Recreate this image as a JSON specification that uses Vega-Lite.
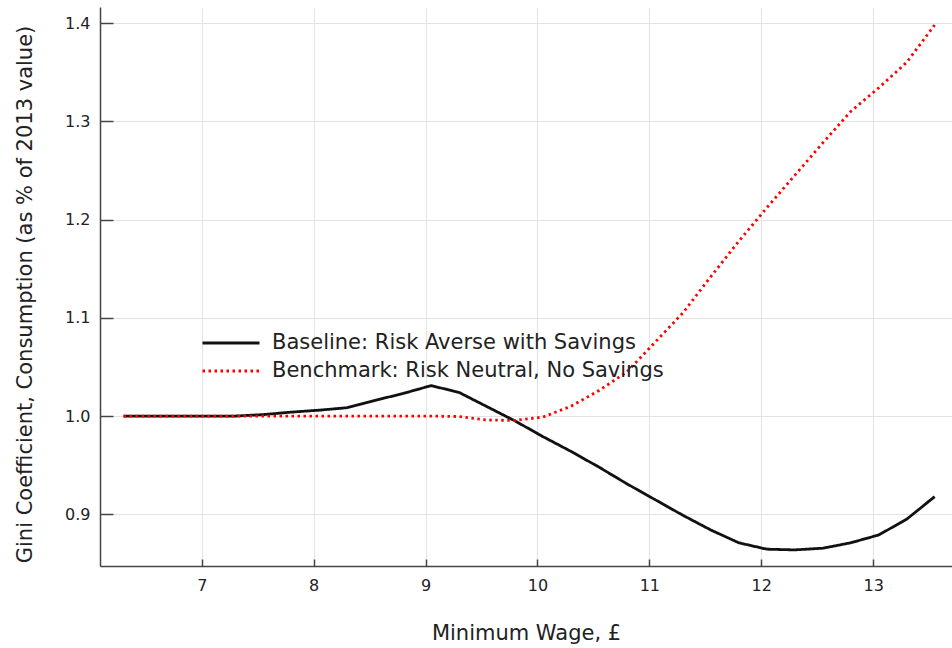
{
  "$schema": "https://vega.github.io/schema/vega-lite/v6.json",
  "width": 852,
  "height": 559,
  "autosize": {"type": "none"},
  "padding": {"left": 100, "top": 7, "right": 0, "bottom": 82},
  "background": "white",
  "config": {
    "view": {"stroke": null},
    "font": "DejaVu Sans",
    "axis": {
      "domainColor": "#444444",
      "domainWidth": 1.5,
      "tickColor": "#444444",
      "tickWidth": 1.5,
      "gridColor": "#e3e3e3",
      "gridWidth": 1,
      "labelFont": "DejaVu Sans",
      "labelFontSize": 16,
      "labelColor": "#222222",
      "titleFont": "DejaVu Sans",
      "titleFontSize": 21,
      "titleFontWeight": "normal",
      "titleColor": "#222222"
    }
  },
  "data": {
    "values": [
      {"x": 6.30, "y": 1.000, "series": "Baseline: Risk Averse with Savings"},
      {"x": 6.55, "y": 1.000, "series": "Baseline: Risk Averse with Savings"},
      {"x": 6.80, "y": 1.000, "series": "Baseline: Risk Averse with Savings"},
      {"x": 7.05, "y": 1.000, "series": "Baseline: Risk Averse with Savings"},
      {"x": 7.30, "y": 1.000, "series": "Baseline: Risk Averse with Savings"},
      {"x": 7.55, "y": 1.0015, "series": "Baseline: Risk Averse with Savings"},
      {"x": 7.80, "y": 1.004, "series": "Baseline: Risk Averse with Savings"},
      {"x": 8.05, "y": 1.006, "series": "Baseline: Risk Averse with Savings"},
      {"x": 8.30, "y": 1.0085, "series": "Baseline: Risk Averse with Savings"},
      {"x": 8.55, "y": 1.016, "series": "Baseline: Risk Averse with Savings"},
      {"x": 8.80, "y": 1.023, "series": "Baseline: Risk Averse with Savings"},
      {"x": 9.05, "y": 1.031, "series": "Baseline: Risk Averse with Savings"},
      {"x": 9.30, "y": 1.024, "series": "Baseline: Risk Averse with Savings"},
      {"x": 9.55, "y": 1.0095, "series": "Baseline: Risk Averse with Savings"},
      {"x": 9.80, "y": 0.995, "series": "Baseline: Risk Averse with Savings"},
      {"x": 10.05, "y": 0.979, "series": "Baseline: Risk Averse with Savings"},
      {"x": 10.30, "y": 0.964, "series": "Baseline: Risk Averse with Savings"},
      {"x": 10.55, "y": 0.948, "series": "Baseline: Risk Averse with Savings"},
      {"x": 10.80, "y": 0.931, "series": "Baseline: Risk Averse with Savings"},
      {"x": 11.05, "y": 0.915, "series": "Baseline: Risk Averse with Savings"},
      {"x": 11.30, "y": 0.899, "series": "Baseline: Risk Averse with Savings"},
      {"x": 11.55, "y": 0.884, "series": "Baseline: Risk Averse with Savings"},
      {"x": 11.80, "y": 0.871, "series": "Baseline: Risk Averse with Savings"},
      {"x": 12.05, "y": 0.8645, "series": "Baseline: Risk Averse with Savings"},
      {"x": 12.30, "y": 0.8638, "series": "Baseline: Risk Averse with Savings"},
      {"x": 12.55, "y": 0.8655, "series": "Baseline: Risk Averse with Savings"},
      {"x": 12.80, "y": 0.871, "series": "Baseline: Risk Averse with Savings"},
      {"x": 13.05, "y": 0.879, "series": "Baseline: Risk Averse with Savings"},
      {"x": 13.30, "y": 0.895, "series": "Baseline: Risk Averse with Savings"},
      {"x": 13.55, "y": 0.918, "series": "Baseline: Risk Averse with Savings"},
      {"x": 6.30, "y": 1.000, "series": "Benchmark: Risk Neutral, No Savings"},
      {"x": 6.55, "y": 1.000, "series": "Benchmark: Risk Neutral, No Savings"},
      {"x": 6.80, "y": 1.000, "series": "Benchmark: Risk Neutral, No Savings"},
      {"x": 7.05, "y": 1.000, "series": "Benchmark: Risk Neutral, No Savings"},
      {"x": 7.30, "y": 1.000, "series": "Benchmark: Risk Neutral, No Savings"},
      {"x": 7.55, "y": 1.000, "series": "Benchmark: Risk Neutral, No Savings"},
      {"x": 7.80, "y": 1.000, "series": "Benchmark: Risk Neutral, No Savings"},
      {"x": 8.05, "y": 1.000, "series": "Benchmark: Risk Neutral, No Savings"},
      {"x": 8.30, "y": 1.000, "series": "Benchmark: Risk Neutral, No Savings"},
      {"x": 8.55, "y": 1.000, "series": "Benchmark: Risk Neutral, No Savings"},
      {"x": 8.80, "y": 1.000, "series": "Benchmark: Risk Neutral, No Savings"},
      {"x": 9.05, "y": 1.000, "series": "Benchmark: Risk Neutral, No Savings"},
      {"x": 9.30, "y": 0.9995, "series": "Benchmark: Risk Neutral, No Savings"},
      {"x": 9.55, "y": 0.996, "series": "Benchmark: Risk Neutral, No Savings"},
      {"x": 9.80, "y": 0.9955, "series": "Benchmark: Risk Neutral, No Savings"},
      {"x": 10.05, "y": 0.999, "series": "Benchmark: Risk Neutral, No Savings"},
      {"x": 10.30, "y": 1.010, "series": "Benchmark: Risk Neutral, No Savings"},
      {"x": 10.55, "y": 1.026, "series": "Benchmark: Risk Neutral, No Savings"},
      {"x": 10.80, "y": 1.045, "series": "Benchmark: Risk Neutral, No Savings"},
      {"x": 11.05, "y": 1.075, "series": "Benchmark: Risk Neutral, No Savings"},
      {"x": 11.30, "y": 1.105, "series": "Benchmark: Risk Neutral, No Savings"},
      {"x": 11.55, "y": 1.142, "series": "Benchmark: Risk Neutral, No Savings"},
      {"x": 11.80, "y": 1.178, "series": "Benchmark: Risk Neutral, No Savings"},
      {"x": 12.05, "y": 1.212, "series": "Benchmark: Risk Neutral, No Savings"},
      {"x": 12.30, "y": 1.245, "series": "Benchmark: Risk Neutral, No Savings"},
      {"x": 12.55, "y": 1.278, "series": "Benchmark: Risk Neutral, No Savings"},
      {"x": 12.80, "y": 1.310, "series": "Benchmark: Risk Neutral, No Savings"},
      {"x": 13.05, "y": 1.334, "series": "Benchmark: Risk Neutral, No Savings"},
      {"x": 13.30, "y": 1.360, "series": "Benchmark: Risk Neutral, No Savings"},
      {"x": 13.55, "y": 1.398, "series": "Benchmark: Risk Neutral, No Savings"}
    ]
  },
  "mark": {"type": "line", "strokeWidth": 2.8, "interpolate": "linear"},
  "encoding": {
    "x": {
      "field": "x",
      "type": "quantitative",
      "scale": {"domain": [6.09, 13.705], "nice": false, "zero": false},
      "axis": {
        "title": "Minimum Wage, £",
        "values": [7, 8, 9, 10, 11, 12, 13],
        "format": "d",
        "tickSize": -7,
        "labelPadding": 18,
        "titleY": 67,
        "titleBaseline": "middle",
        "labelFlush": false
      }
    },
    "y": {
      "field": "y",
      "type": "quantitative",
      "scale": {"domain": [0.8474, 1.4163], "nice": false, "zero": false},
      "axis": {
        "title": "Gini Coefficient, Consumption (as % of 2013 value)",
        "values": [0.9, 1.0, 1.1, 1.2, 1.3, 1.4],
        "format": ".1f",
        "tickSize": -13,
        "labelPadding": 23,
        "titleX": -75,
        "titleY": 287,
        "titleAngle": -90,
        "titleBaseline": "middle",
        "titleAlign": "center",
        "labelFlush": false
      }
    },
    "color": {
      "field": "series",
      "type": "nominal",
      "scale": {
        "domain": ["Baseline: Risk Averse with Savings", "Benchmark: Risk Neutral, No Savings"],
        "range": ["#111111", "#ff0000"]
      },
      "legend": {
        "orient": "none",
        "legendX": 115,
        "legendY": 320,
        "title": null,
        "symbolType": "M-2,0H2",
        "symbolSize": 812,
        "symbolStrokeWidth": 2.8,
        "symbolFillColor": "transparent",
        "labelFont": "DejaVu Sans",
        "labelFontSize": 21,
        "labelColor": "#222222",
        "labelOffset": 25,
        "rowPadding": 2,
        "padding": 0,
        "labelLimit": 600
      }
    },
    "strokeDash": {
      "field": "series",
      "type": "nominal",
      "scale": {
        "domain": ["Baseline: Risk Averse with Savings", "Benchmark: Risk Neutral, No Savings"],
        "range": [[1, 0], [2.5, 3.5]]
      },
      "legend": {
        "orient": "none",
        "legendX": 115,
        "legendY": 320,
        "title": null,
        "symbolType": "M-2,0H2",
        "symbolSize": 812,
        "symbolStrokeWidth": 2.8,
        "symbolFillColor": "transparent",
        "labelFont": "DejaVu Sans",
        "labelFontSize": 21,
        "labelColor": "#222222",
        "labelOffset": 25,
        "rowPadding": 2,
        "padding": 0,
        "labelLimit": 600
      }
    }
  }
}
